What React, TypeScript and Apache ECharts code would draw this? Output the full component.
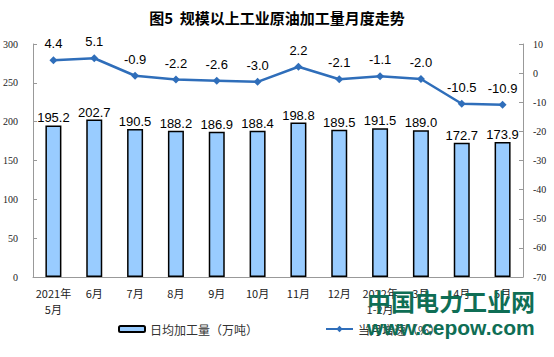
import React, { useEffect, useRef } from "react";
import * as echarts from "echarts";

const categories = ["2021年\n5月", "6月", "7月", "8月", "9月", "10月", "11月", "12月", "2022年\n1-2月", "3月", "4月", "5月"];
const dailyOutput = [195.2, 202.7, 190.5, 188.2, 186.9, 188.4, 198.8, 189.5, 191.5, 189.0, 172.7, 173.9];
const growthRate = [4.4, 5.1, -0.9, -2.2, -2.6, -3.0, 2.2, -2.1, -1.1, -2.0, -10.5, -10.9];
const leftTicks = { min: 0, max: 300, interval: 50 };
const rightTicks = { min: -70, max: 10, interval: 10 };

export default function App() {
  const ref = useRef<HTMLDivElement>(null);
  useEffect(() => {
    if (!ref.current) return;
    const chart = echarts.init(ref.current, null, { renderer: "svg" });
    const cjk = "'Noto Sans CJK SC', 'Liberation Sans', sans-serif";
    const serif = "'Liberation Serif', 'DejaVu Serif', serif";
    chart.setOption({
      animation: false,
      backgroundColor: "#ffffff",
      title: {
        text: "图5  规模以上工业原油加工量月度走势",
        left: "center",
        top: 5,
        textStyle: { fontSize: 15, fontWeight: "bold", color: "#000", fontFamily: cjk },
      },
      grid: { left: 33, right: 31, top: 44, bottom: 80 },
      legend: [
        {
          data: ["日均加工量（万吨）"],
          left: 113,
          top: 318,
          itemWidth: 26,
          itemHeight: 6,
          itemGap: 4,
          textStyle: { fontSize: 12, color: "#333", fontFamily: cjk },
        },
        {
          data: ["当月增速（%）"],
          left: 320,
          top: 318,
          itemWidth: 27,
          itemHeight: 8,
          textStyle: { fontSize: 12, color: "#333", fontFamily: cjk },
        },
      ],
      xAxis: {
        type: "category",
        data: categories,
        axisLine: { lineStyle: { color: "#999", width: 1 } },
        axisTick: { inside: true, length: 3, lineStyle: { color: "#bbb" } },
        axisLabel: { fontSize: 11, color: "#222", fontFamily: cjk, margin: 8, lineHeight: 16, interval: 0 },
      },
      yAxis: [
        {
          type: "value",
          ...leftTicks,
          position: "left",
          axisLine: { show: true, lineStyle: { color: "#999" } },
          axisTick: { show: true, inside: true, length: 4, lineStyle: { color: "#999" } },
          splitLine: { show: false },
          axisLabel: { fontSize: 10, color: "#222", fontFamily: serif, margin: 15 },
        },
        {
          type: "value",
          ...rightTicks,
          position: "right",
          axisLine: { show: true, lineStyle: { color: "#999" } },
          axisTick: { show: true, inside: true, length: 4, lineStyle: { color: "#999" } },
          splitLine: { show: false },
          axisLabel: { fontSize: 10, color: "#222", fontFamily: serif, margin: 10 },
        },
      ],
      series: [
        {
          name: "日均加工量（万吨）",
          type: "bar",
          data: dailyOutput,
          yAxisIndex: 0,
          barWidth: 16,
          itemStyle: { color: "#99CCFF", borderColor: "#000", borderWidth: 1.5 },
          label: {
            show: true,
            position: "top",
            distance: 1,
            fontSize: 13,
            color: "#000",
            fontFamily: "'Liberation Sans', Arial, sans-serif",
            formatter: (p: any) => p.value.toFixed(1),
          },
        },
        {
          name: "当月增速（%）",
          type: "line",
          data: growthRate,
          yAxisIndex: 1,
          symbol: "diamond",
          symbolSize: 8,
          lineStyle: { color: "#2F6EBA", width: 2.5 },
          itemStyle: { color: "#2F6EBA" },
          label: {
            show: true,
            position: "top",
            distance: 6,
            fontSize: 13,
            color: "#000",
            fontFamily: "'Liberation Sans', Arial, sans-serif",
            formatter: (p: any) => p.value.toFixed(1),
          },
        },
      ],
      graphic: [
        {
          type: "text",
          left: 367,
          top: 288,
          z: 100,
          style: {
            text: "中国电力工业网",
            fontSize: 24,
            fontWeight: "bold",
            fill: "#0F6E55",
            fontFamily: cjk,
          },
        },
        {
          type: "text",
          left: 367,
          top: 317,
          z: 100,
          style: {
            text: "www.cepow.com",
            fontSize: 21,
            fontWeight: "bold",
            fill: "#0F6E55",
            fontFamily: "'Liberation Sans', Arial, sans-serif",
          },
        },
      ],
    });
    return () => chart.dispose();
  }, []);
  return <div ref={ref} style={{ position: "absolute", left: 0, top: 0, width: 554, height: 357 }} />;
}
